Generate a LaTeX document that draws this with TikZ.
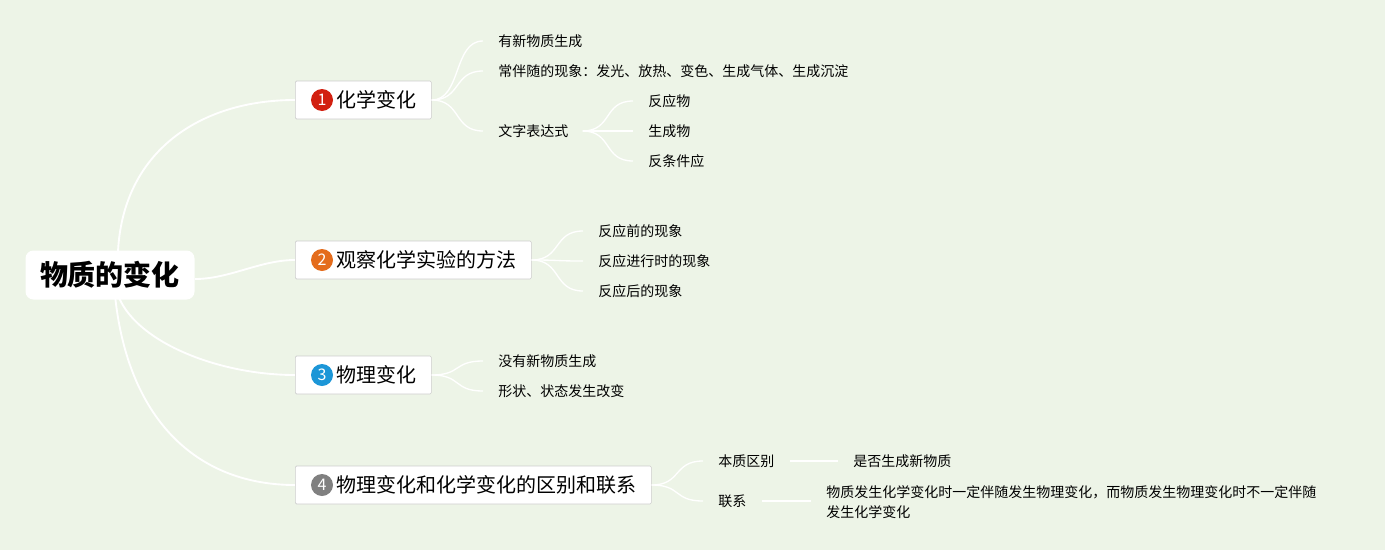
\documentclass[tikz,border=0pt]{standalone}
\usepackage{fontspec}
\setmainfont{Noto Sans CJK SC}
\usetikzlibrary{calc}
\definecolor{bggreen}{RGB}{237,244,231}
\definecolor{boxgray}{RGB}{205,205,205}
\definecolor{numred}{RGB}{210,32,16}
\definecolor{numorange}{RGB}{228,108,28}
\definecolor{numblue}{RGB}{28,150,215}
\definecolor{numgray}{RGB}{128,128,128}
\def\mainlink{1.4pt}
\def\sublink{1pt}
\pgfdeclarelayer{links}
\pgfsetlayers{links,main}

\tikzset{
  topic/.style={draw=boxgray, fill=white, rounded corners=1pt, line width=0.5pt, anchor=west,
    minimum height=28.5pt, inner xsep=11pt, font=\fontsize{15}{18}\selectfont},
  numdot/.style={circle, fill=#1, text=white, minimum size=16.5pt, inner sep=0pt,
    font=\fontsize{12}{12}\selectfont},
  leaf/.style={anchor=west, inner sep=0pt, align=left, font=\fontsize{10.5}{15}\selectfont},
  link/.style={draw=white, line width=#1},
}

\begin{document}
\begin{tikzpicture}[x=0.75pt, y=-0.75pt]
            \node [fill=white, rounded corners=6pt, minimum width=126.75pt, minimum height=36.75pt,
              font=\fontsize{21}{24}\selectfont\bfseries] (root) at (110,275) {物质的变化};

            % main topics
            \node [topic] (b1) at (295,100) {\hspace*{20pt}化学变化};
            \node [topic] (b2) at (295,260) {\hspace*{20pt}观察化学实验的方法};
            \node [topic] (b3) at (295,375) {\hspace*{20pt}物理变化};
            \node [topic] (b4) at (295,485) {\hspace*{20pt}物理变化和化学变化的区别和联系};

            \node [numdot=numred] (n1) at ($(b1.west) + (27,0)$) {1};
            \node [numdot=numorange] (n2) at ($(b2.west) + (27,0)$) {2};
            \node [numdot=numblue] (n3) at ($(b3.west) + (27,0)$) {3};
            \node [numdot=numgray] (n4) at ($(b4.west) + (27,0)$) {4};

        \begin{pgfonlayer}{links}
        \fill [bggreen] (0,0) rectangle (1385,550);
        \draw [link=\mainlink] ([xshift=6pt,yshift=-1pt]root.north) .. controls +(5,-100) and +(-95,0) .. (b1.west);
        \draw [link=\mainlink] ([yshift=-3pt]root.east) .. controls +(35,0) and +(-35,0) .. (b2.west);
        \draw [link=\mainlink] ([xshift=7pt,yshift=1pt]root.south) .. controls +(20,45) and +(-75,0) .. (b3.west);
        \draw [link=\mainlink] ([xshift=4pt,yshift=1pt]root.south) .. controls +(14,125) and +(-95,0) .. (b4.west);
        \end{pgfonlayer}
        \useasboundingbox (0,0) rectangle (1385,550);

            % topic 1
            \node [leaf] (l11) at (498,41) {有新物质生成};
            \node [leaf] (l12) at (498,71) {常伴随的现象：发光、放热、变色、生成气体、生成沉淀};
            \node [leaf] (l13) at (498,131) {文字表达式};
            \node [leaf] (l131) at (648,101) {反应物};
            \node [leaf] (l132) at (648,131) {生成物};
            \node [leaf] (l133) at (648,161) {反条件应};

        \foreach \c in {l11,l12,l13}
            \draw [link=\sublink] (b1.east) .. controls +(30,0) and +(-30,0) .. ($(\c.west) + (-15,0)$);
        \foreach \c in {l131,l132,l133}
            \draw [link=\sublink] ($(l13.east) + (14,0)$) .. controls +(30,0) and +(-30,0) .. ($(\c.west) + (-15,0)$);

            % topic 2
            \node [leaf] (l21) at (598,231) {反应前的现象};
            \node [leaf] (l22) at (598,261) {反应进行时的现象};
            \node [leaf] (l23) at (598,291) {反应后的现象};

        \foreach \c in {l21,l22,l23}
            \draw [link=\sublink] (b2.east) .. controls +(30,0) and +(-30,0) .. ($(\c.west) + (-15,0)$);

            % topic 3
            \node [leaf] (l31) at (498,361) {没有新物质生成};
            \node [leaf] (l32) at (498,391) {形状、状态发生改变};

        \foreach \c in {l31,l32}
            \draw [link=\sublink] (b3.east) .. controls +(30,0) and +(-30,0) .. ($(\c.west) + (-15,0)$);

            % topic 4
            \node [leaf] (l41) at (718,461) {本质区别};
            \node [leaf] (l42) at (718,501) {联系};
            \node [leaf] (l411) at (853,461) {是否生成新物质};
            \node [leaf] (l421) at (826,502) {物质发生化学变化时一定伴随发生物理变化，而物质发生物理变化时不一定伴随\\发生化学变化};

        \foreach \c in {l41,l42}
            \draw [link=\sublink] (b4.east) .. controls +(30,0) and +(-30,0) .. ($(\c.west) + (-15,0)$);
        \draw [link=\sublink] ($(l41.east) + (15,0)$) -- ($(l411.west) + (-15,0)$);
        \draw [link=\sublink] ($(l42.east) + (15,0)$) -- ($(l421.west) + (-15,-1)$);

\end{tikzpicture}
\end{document}
